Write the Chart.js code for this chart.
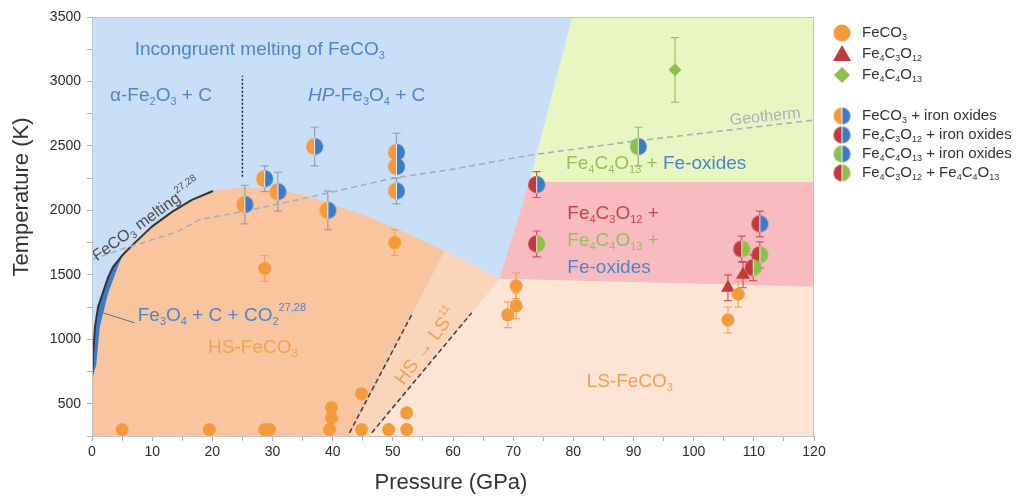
<!DOCTYPE html>
<html><head><meta charset="utf-8">
<script src="https://cdn.jsdelivr.net/npm/chart.js@4.4.0/dist/chart.umd.min.js"></script>
<style>html,body{margin:0;padding:0;background:#fff;}#wrap{width:1024px;height:496px;}</style>
</head><body><div id="wrap"><canvas id="c" width="1024" height="496"></canvas></div>
<script>
// ---------- axis ticks ----------
const xTickLabels = [0,10,20,30,40,50,60,70,80,90,100,110,120];
const yTickLabels = [500,1000,1500,2000,2500,3000,3500];

// ---------- data points (P in GPa, T in K, symmetric T error) ----------
const feco3P   = [5,19.5,28.7,29.5,39.5,39.8,39.8,44.8,44.8,49.3,52.3,52.3,28.7,50.3,70.5,70.5,69.1,107.4,105.7];
const feco3T   = [300,300,300,300,300,470,390,578,300,300,430,300,1550,1750,1415,1260,1190,1350,1150];
const feco3Err = [0,0,0,0,0,0,0,0,0,0,0,0,100,100,100,100,100,100,100];

const fe4c3P   = [105.7,108.2];
const fe4c3T   = [1400,1500];
const fe4c3Err = [100,100];

const fe4c4P   = [96.9];
const fe4c4T   = [3090];
const fe4c4Err = [250];

const feco3OxP   = [25.4,28.7,30.9,37.0,39.2,50.6,50.6,50.6];
const feco3OxT   = [2045,2245,2145,2495,2000,2450,2340,2150];
const feco3OxErr = [150,100,150,150,150,150,0,100];

const fe4c3OxP   = [73.9,111.0];
const fe4c3OxT   = [2200,1895];
const fe4c3OxErr = [100,100];

const fe4c4OxP   = [90.8];
const fe4c4OxT   = [2495];
const fe4c4OxErr = [150];

const mixP   = [73.9,108.0,111.0,109.9];
const mixT   = [1740,1700,1655,1555];
const mixErr = [100,100,100,100];

// ---------- phase boundaries ----------
const hsP = [0,0,0.7,1.3,2.7,4.3,5.5,7.1,9.9,13.3,16.6,20.1,24,28,32,36,41,46,52,58.6,53.3,42.8];
const hsT = [250,690,800,1097,1360,1562,1694,1748,1872,1988,2081,2150,2175,2170,2150,2110,2030,1950,1830,1686,1205,250];
const sliverP = [0,0.2,0.5,1.0,1.8,2.7,3.5,5.0,5.5,4.3,2.7,1.3,0.7];
const sliverT = [690,900,1097,1250,1360,1484,1562,1650,1694,1562,1360,1097,800];
const meltP = [0,0.2,0.5,1.0,1.8,2.7,3.5,5.0,7.1,9.9,13.3,16.6,20.1];
const meltT = [690,900,1097,1250,1360,1484,1562,1650,1748,1872,1988,2081,2150];
const transP = [58.6,67.7,63.1,46.3,42.8,53.3];
const transT = [1686,1469,1205,250,250,1205];
const lsP = [67.7,120,120,46.3,63.1];
const lsT = [1469,1407,250,250,1205];
const redP = [67.7,72.7,120,120];
const redT = [1469,2220,2220,1407];
const greenP = [72.7,79.8,120,120];
const greenT = [2220,3500,3500,2220];
const geoP = [0,5,14,18,25,35,50,60,73,89,120];
const geoT = [1620,1700,1830,1930,1990,2090,2250,2320,2430,2530,2700];
const spin1P = [42.8,53.3], spin1T = [275,1205];
const spin2P = [46.5,63.1], spin2T = [275,1205];
const vlineP = [25,25], vlineT = [2260,3045];
const leaderP = [1.8,7.1], leaderT = [1205,1128];

// ---------- colours ----------
const C_OR='#f59a3a', C_BL='#3c7cc6', C_RD='#c23a3e', C_GR='#8cc04a';
const FONT='"Liberation Sans", Arial, Helvetica, sans-serif';

// ---------- annotations (text, P, T) ----------
const labels = [
  {t:'Incongruent melting of FeCO_{3}', p:7.1, T:3244, c:'#4d84c8', s:19},
  {t:'α-Fe_{2}O_{3} + C', p:3.0, T:2888, c:'#4d84c8', s:19},
  {t:'*HP*-Fe_{3}O_{4} + C', p:35.9, T:2888, c:'#4d84c8', s:19},
  {t:'Fe_{4}C_{4}O_{13} + [#4d84c8]Fe-oxides', p:78.8, T:2360, c:'#93bf5a', s:19},
  {t:'Fe_{4}C_{3}O_{12} +', p:79.0, T:1973, c:'#c4434c', s:19},
  {t:'Fe_{4}C_{4}O_{13} +', p:79.0, T:1764, c:'#93bf5a', s:19},
  {t:'Fe-oxides', p:79.0, T:1554, c:'#4d84c8', s:19},
  {t:'LS-FeCO_{3}', p:82.2, T:670, c:'#f2a052', s:19},
  {t:'HS-FeCO_{3}', p:19.3, T:934, c:'#f2a052', s:19},
  {t:'Fe_{3}O_{4} + C + CO_{2}^{27,28}', p:7.6, T:1182, c:'#4d84c8', s:19},
  {t:'HS → LS^{11}', p:55.6, T:942, c:'#f2a052', s:19, rot:-53, align:'center'},
  {t:'FeCO_{3} melting^{27,28}', p:9.1, T:1926, c:'#4a4a4a', s:16, rot:-36, align:'center'},
  {t:'Geotherm', p:111.9, T:2725, c:'#a8aec0', s:16, rot:-6, align:'center'}
];

// ---------- rich text helper ----------
function richSegs(str){
  const segs=[]; let color=null, italic=false;
  const re=/_\{([^}]*)\}|\^\{([^}]*)\}|\[(#[0-9a-fA-F]{3,6})\]|\*|([^_^\[\*]+)/g;
  let m;
  while((m=re.exec(str))){
    if(m[1]!==undefined) segs.push({t:m[1],mode:'sub',color,italic});
    else if(m[2]!==undefined) segs.push({t:m[2],mode:'sup',color,italic});
    else if(m[3]!==undefined) color=m[3];
    else if(m[0]==='*') italic=!italic;
    else segs.push({t:m[4],mode:'n',color,italic});
  }
  return segs;
}
function drawRich(ctx,str,x,y,size,color,align,rot){
  const segs=richSegs(str);
  ctx.save(); ctx.translate(x,y); if(rot) ctx.rotate(rot*Math.PI/180);
  ctx.textBaseline='middle'; ctx.textAlign='left';
  const f=s=>(s.italic?'italic ':'')+(s.mode==='n'?size:Math.round(size*0.6))+'px '+FONT;
  let w=0; segs.forEach(s=>{ctx.font=f(s); s.w=ctx.measureText(s.t).width; w+=s.w;});
  let cx=align==='center'?-w/2:align==='right'?-w:0;
  segs.forEach(s=>{ctx.font=f(s); ctx.fillStyle=s.color||color;
    const dy=s.mode==='sub'?size*0.3:s.mode==='sup'?-size*0.4:0;
    ctx.fillText(s.t,cx,dy); cx+=s.w;});
  ctx.restore();
}

// ---------- half circle markers ----------
function halfCircle(c1,c2,r){
  const cv=document.createElement('canvas'); const s=2*r+2; cv.width=s; cv.height=s;
  const g=cv.getContext('2d'); const c=s/2;
  g.beginPath(); g.moveTo(c,c); g.arc(c,c,r,-Math.PI/2,Math.PI/2,true); g.closePath(); g.fillStyle=c1; g.fill();
  g.beginPath(); g.moveTo(c,c); g.arc(c,c,r,-Math.PI/2,Math.PI/2,false); g.closePath(); g.fillStyle=c2; g.fill();
  g.strokeStyle='rgba(255,255,255,0.85)'; g.lineWidth=1; g.beginPath(); g.moveTo(c,c-r); g.lineTo(c,c+r); g.stroke();
  return cv;
}
const hOB=halfCircle(C_OR,C_BL,8.5), hRB=halfCircle(C_RD,C_BL,8.5), hGB=halfCircle(C_GR,C_BL,8.5), hRG=halfCircle(C_RD,C_GR,8.5);
const lOB=halfCircle(C_OR,C_BL,8.5), lRB=halfCircle(C_RD,C_BL,8.5), lGB=halfCircle(C_GR,C_BL,8.5), lRG=halfCircle(C_RD,C_GR,8.5);

function pts(P,T){return P.map((p,i)=>({x:p,y:T[i]}));}

const phasePlugin={
  id:'phase',
  beforeDatasetsDraw(chart){
    const ctx=chart.ctx, xs=chart.scales.x, ys=chart.scales.y, a=chart.chartArea;
    const X=p=>xs.getPixelForValue(p), Y=t=>ys.getPixelForValue(t);
    const path=(P,T)=>{ctx.beginPath(); P.forEach((p,i)=>{i?ctx.lineTo(X(p),Y(T[i])):ctx.moveTo(X(p),Y(T[i]));});};
    const poly=(P,T,col)=>{path(P,T); ctx.closePath(); ctx.fillStyle=col; ctx.fill();};
    ctx.save();
    ctx.beginPath(); ctx.rect(a.left,a.top,a.right-a.left,a.bottom-a.top); ctx.clip();
    ctx.fillStyle='#c9dff7'; ctx.fillRect(a.left,a.top,a.right-a.left,a.bottom-a.top);
    poly(greenP,greenT,'#e8f6c2');
    poly(redP,redT,'#f8bcc0');
    poly(lsP,lsT,'#fde4d5');
    poly(transP,transT,'#fbd5b9');
    poly(hsP,hsT,'#f9c59f');
    poly(sliverP,sliverT,'#3f7bc4');
    // melting curve
    path(meltP,meltT); ctx.strokeStyle='#333'; ctx.lineWidth=2; ctx.lineJoin='round'; ctx.stroke();
    // geotherm
    path(geoP,geoT); ctx.setLineDash([6,4]); ctx.strokeStyle='#a9adb9'; ctx.lineWidth=1.6; ctx.stroke();
    // spin transition
    ctx.setLineDash([5,3]); ctx.strokeStyle='#3d3d3d'; ctx.lineWidth=1.5;
    path(spin1P,spin1T); ctx.stroke(); path(spin2P,spin2T); ctx.stroke();
    // vertical dotted line
    ctx.setLineDash([2,2]); ctx.strokeStyle='#222'; ctx.lineWidth=1.5; path(vlineP,vlineT); ctx.stroke();
    ctx.setLineDash([]);
    // leader line
    ctx.strokeStyle='#6a6a6a'; ctx.lineWidth=1; path(leaderP,leaderT); ctx.stroke();
    ctx.restore();
    // labels
    labels.forEach(l=>drawRich(ctx,l.t,X(l.p),Y(l.T),l.s,l.c,l.align||'left',l.rot||0));
    // error bars
    ctx.save();
    chart.data.datasets.forEach((ds,di)=>{
      const meta=chart.getDatasetMeta(di); if(!ds.err) return;
      ctx.strokeStyle=ds.errColor; ctx.lineWidth=1.2;
      meta.data.forEach((el,i)=>{
        const e=ds.err[i]; if(!e) return;
        const v=ds.data[i].y, x=el.x, y1=Y(v+e), y2=Y(v-e);
        ctx.beginPath(); ctx.moveTo(x,y1); ctx.lineTo(x,y2);
        ctx.moveTo(x-4,y1); ctx.lineTo(x+4,y1); ctx.moveTo(x-4,y2); ctx.lineTo(x+4,y2); ctx.stroke();
      });
    });
    ctx.restore();
  },
  afterDraw(chart){
    const ctx=chart.ctx, a=chart.chartArea;
    ctx.save();
    ctx.strokeStyle='#c4c4c4'; ctx.lineWidth=1;
    ctx.strokeRect(a.left+0.5,a.top+0.5,a.right-a.left-1,a.bottom-a.top);
    // axis titles
    ctx.fillStyle='#333'; ctx.font='22px '+FONT; ctx.textAlign='center'; ctx.textBaseline='middle';
    ctx.fillText('Pressure (GPa)',451,483);
    ctx.translate(22,197); ctx.rotate(-Math.PI/2); ctx.fillText('Temperature (K)',0,0);
    ctx.restore();
    // legend
    const lx=842, tx=862;
    const rows=[
      {y:33, m:'circle', c:C_OR, t:'FeCO_{3}'},
      {y:54, m:'tri', c:C_RD, t:'Fe_{4}C_{3}O_{12}'},
      {y:75, m:'dia', c:C_GR, t:'Fe_{4}C_{4}O_{13}'},
      {y:116, m:lOB, t:'FeCO_{3} + iron oxides'},
      {y:135, m:lRB, t:'Fe_{4}C_{3}O_{12} + iron oxides'},
      {y:154, m:lGB, t:'Fe_{4}C_{4}O_{13} + iron oxides'},
      {y:173, m:lRG, t:'Fe_{4}C_{3}O_{12} + Fe_{4}C_{4}O_{13}'}
    ];
    rows.forEach(r=>{
      ctx.save();
      if(r.m==='circle'){ctx.fillStyle=r.c; ctx.beginPath(); ctx.arc(lx,r.y,8.5,0,2*Math.PI); ctx.fill();}
      else if(r.m==='tri'){ctx.fillStyle=r.c; ctx.beginPath(); ctx.moveTo(lx,r.y-9); ctx.lineTo(lx+9,r.y+7); ctx.lineTo(lx-9,r.y+7); ctx.closePath(); ctx.fill();}
      else if(r.m==='dia'){ctx.fillStyle=r.c; ctx.beginPath(); ctx.moveTo(lx,r.y-8); ctx.lineTo(lx+8,r.y); ctx.lineTo(lx,r.y+8); ctx.lineTo(lx-8,r.y); ctx.closePath(); ctx.fill();}
      else {ctx.drawImage(r.m,lx-r.m.width/2,r.y-r.m.height/2);}
      ctx.restore();
      drawRich(ctx,r.t,tx,r.y,15,'#333','left',0);
    });
  }
};

const chart=new Chart(document.getElementById('c'),{
  type:'scatter',
  data:{datasets:[
    {label:'FeCO3',data:pts(feco3P,feco3T),err:feco3Err,errColor:'rgba(245,154,58,0.8)',pointStyle:'circle',pointRadius:6.5,backgroundColor:C_OR,borderWidth:0},
    {label:'Fe4C3O12',data:pts(fe4c3P,fe4c3T),err:fe4c3Err,errColor:'rgba(194,58,62,0.8)',pointStyle:'triangle',pointRadius:8,backgroundColor:C_RD,borderWidth:0},
    {label:'Fe4C4O13',data:pts(fe4c4P,fe4c4T),err:fe4c4Err,errColor:'rgba(140,180,74,0.8)',pointStyle:'rectRot',pointRadius:6.5,backgroundColor:C_GR,borderWidth:0},
    {label:'FeCO3 + iron oxides',data:pts(feco3OxP,feco3OxT),err:feco3OxErr,errColor:'rgba(150,150,170,0.9)',pointStyle:hOB},
    {label:'Fe4C3O12 + iron oxides',data:pts(fe4c3OxP,fe4c3OxT),err:fe4c3OxErr,errColor:'rgba(194,58,62,0.8)',pointStyle:hRB},
    {label:'Fe4C4O13 + iron oxides',data:pts(fe4c4OxP,fe4c4OxT),err:fe4c4OxErr,errColor:'rgba(140,170,110,0.9)',pointStyle:hGB},
    {label:'Fe4C3O12 + Fe4C4O13',data:pts(mixP,mixT),err:mixErr,errColor:'rgba(194,58,62,0.8)',pointStyle:hRG}
  ]},
  plugins:[phasePlugin],
  options:{
    responsive:false, animation:false, events:[],
    clip:false,
    layout:{padding:{left:0,right:210,top:17,bottom:0}},
    plugins:{legend:{display:false},tooltip:{enabled:false}},
    scales:{
      x:{type:'linear',min:0,max:120,
        afterFit(s){s.height=60;},
        ticks:{stepSize:5,autoSkip:false,maxRotation:0,color:'#2a2a2a',font:{size:14,family:FONT},padding:3,
          callback:v=>xTickLabels.includes(v)?String(v):''},
        grid:{drawOnChartArea:false,drawTicks:true,tickLength:5,tickColor:'#b0b0b0'},
        border:{color:'#b8b8b8'}},
      y:{type:'linear',min:250,max:3500,
        afterFit(s){s.width=92;},
        ticks:{stepSize:250,autoSkip:false,color:'#2a2a2a',font:{size:14,family:FONT},padding:6,
          callback:v=>yTickLabels.includes(v)?String(v):''},
        grid:{drawOnChartArea:false,drawTicks:true,tickLength:5,tickColor:'#b0b0b0'},
        border:{color:'#b8b8b8'}}
    }
  }
});
</script></body></html>
